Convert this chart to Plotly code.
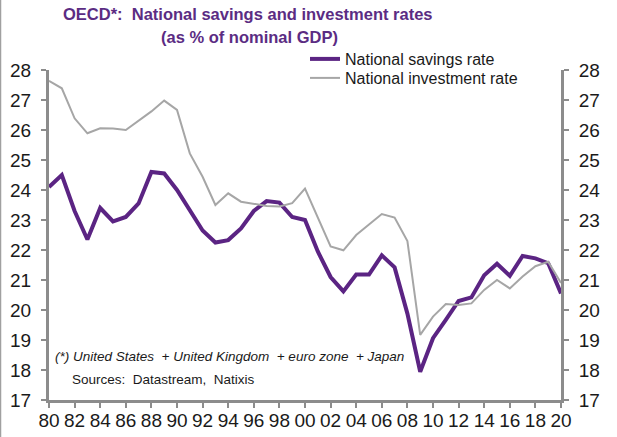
import plotly.graph_objects as go

years = list(range(1980, 2021))
savings = [24.1, 24.5, 23.3, 22.35, 23.4, 22.95, 23.1, 23.55, 24.6, 24.55,
           24.0, 23.3, 22.65, 22.25, 22.33, 22.72, 23.3, 23.63, 23.58, 23.1,
           23.0, 21.95, 21.1, 20.62, 21.18, 21.18, 21.82, 21.42, 19.88, 17.94,
           19.06, 19.67, 20.3, 20.42, 21.16, 21.54, 21.14, 21.8, 21.72, 21.56,
           20.55]
investment = [27.64, 27.39, 26.39, 25.89, 26.06, 26.05, 26.0, 26.31, 26.62, 26.98,
              26.67, 25.22, 24.44, 23.5, 23.89, 23.61, 23.53, 23.47, 23.45, 23.56,
              24.05, 23.1, 22.12, 21.99, 22.5, 22.85, 23.2, 23.08, 22.3, 19.17,
              19.78, 20.2, 20.17, 20.22, 20.67, 21.0, 20.72, 21.12, 21.46, 21.61,
              20.9]
xtick_vals = list(range(1980, 2021, 2))
xtick_text = [f"{y % 100:02d}" for y in xtick_vals]
ytick_vals = list(range(17, 29))

FONT = "Liberation Sans, Arial, sans-serif"
PURPLE = "#5B2483"
GRAY = "#A6A6A6"
AXIS = "#8C8C8C"
TXT = "#1a1a1a"

L, R, T, B = 49, 56, 70, 37
PW, PH = 617 - L - R, 437 - T - B


def px_x(p):
    return (p - L) / PW


def px_y(p):
    return (437 - B - p) / PH


fig = go.Figure()
fig.add_trace(go.Scatter(x=years, y=savings, mode="lines", name="National savings rate",
                         line=dict(color=PURPLE, width=4), legend="legend"))
fig.add_trace(go.Scatter(x=years, y=investment, mode="lines", name="National investment rate",
                         line=dict(color=GRAY, width=2), legend="legend2"))
fig.add_trace(go.Scatter(x=[years[0]], y=[savings[0]], yaxis="y2", mode="markers",
                         marker=dict(opacity=0), showlegend=False, hoverinfo="skip"))

axis_common = dict(showgrid=False, zeroline=False, showline=True, linecolor=AXIS, linewidth=3,
                   ticks="outside", ticklen=5, tickwidth=2, tickcolor=AXIS,
                   tickfont=dict(family=FONT, size=19, color=TXT))

leg_common = dict(xanchor="left", yanchor="middle", bgcolor="rgba(0,0,0,0)",
                  font=dict(family=FONT, size=16, color=TXT), itemwidth=30)

fig.update_layout(
    width=617, height=437,
    margin=dict(l=L, r=R, t=T, b=B, autoexpand=False),
    paper_bgcolor="white", plot_bgcolor="white",
    font=dict(family=FONT, color=TXT),
    showlegend=True,
    legend=dict(x=px_x(305), y=px_y(59), **leg_common),
    legend2=dict(x=px_x(305), y=px_y(78), **leg_common),
    xaxis=dict(range=[1980, 2020], tickvals=xtick_vals, ticktext=xtick_text,
               automargin=False, ticklabelstandoff=-4, **axis_common),
    yaxis=dict(range=[17, 28], tickvals=ytick_vals, automargin=False,
               ticklabelstandoff=6, **axis_common),
    yaxis2=dict(range=[17, 28], tickvals=ytick_vals, overlaying="y", side="right",
                automargin=False, ticklabelstandoff=6, **axis_common),
    annotations=[
        dict(text="<b>OECD*:  National savings and investment rates</b>",
             xref="paper", yref="paper", x=px_x(248), y=px_y(14), xanchor="center",
             yanchor="middle", showarrow=False,
             font=dict(family=FONT, size=16.5, color="#5B2C83")),
        dict(text="<b>(as % of nominal GDP)</b>",
             xref="paper", yref="paper", x=px_x(249), y=px_y(37), xanchor="center",
             yanchor="middle", showarrow=False,
             font=dict(family=FONT, size=16.5, color="#5B2C83")),
        dict(text="<i>(*) United States  + United Kingdom  + euro zone  + Japan</i>",
             xref="paper", yref="paper", x=px_x(53), y=px_y(356), xanchor="left",
             yanchor="middle", showarrow=False, font=dict(family=FONT, size=13.5, color=TXT)),
        dict(text="Sources:  Datastream,  Natixis",
             xref="paper", yref="paper", x=px_x(70), y=px_y(379), xanchor="left",
             yanchor="middle", showarrow=False, font=dict(family=FONT, size=13.5, color=TXT)),
    ],
    shapes=[
        dict(type="line", xref="paper", yref="paper", x0=px_x(0.5), x1=px_x(0.5),
             y0=px_y(0), y1=px_y(437), line=dict(color="#A0A0A0", width=1.5)),
    ],
)
fig.write_html("out.html")
